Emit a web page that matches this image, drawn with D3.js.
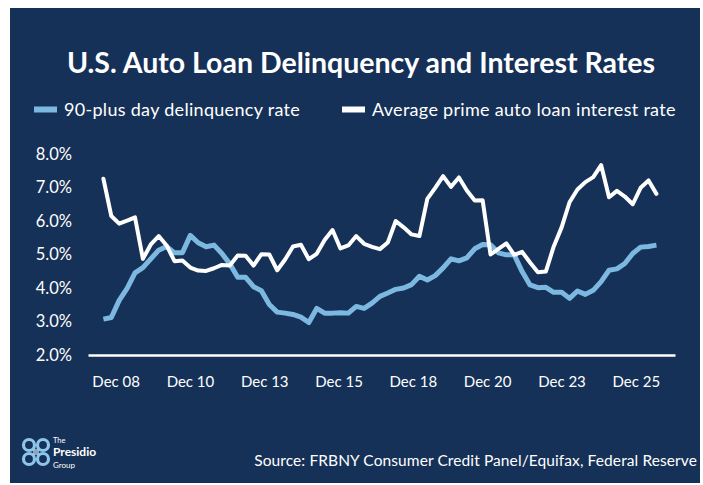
<!DOCTYPE html>
<html>
<head>
<meta charset="utf-8">
<script src="https://cdn.jsdelivr.net/npm/d3@7"></script>
<style>
  html, body { margin: 0; padding: 0; background: #ffffff; }
  svg { display: block; }
  text { font-family: Lato, "Open Sans", sans-serif; }
</style>
</head>
<body>
<svg id="chart" width="703" height="485"></svg>
<script>
// Quarterly readings, first quarter of 2008 through third quarter of 2025
const delinquencyRate = [
  3.07, 3.12, 3.63, 3.99, 4.45, 4.61, 4.87, 5.13, 5.24, 5.05,
  5.05, 5.57, 5.35, 5.23, 5.28, 5.03, 4.72, 4.32, 4.32, 4.04,
  3.92, 3.51, 3.28, 3.25, 3.21, 3.13, 2.97, 3.39, 3.25, 3.25,
  3.26, 3.25, 3.45, 3.39, 3.55, 3.75, 3.85, 3.96, 4.00, 4.10,
  4.35, 4.24, 4.37, 4.60, 4.87, 4.81, 4.90, 5.17, 5.30, 5.29,
  5.05, 4.99, 4.99, 4.49, 4.09, 4.01, 4.02, 3.87, 3.87, 3.69,
  3.91, 3.81, 3.93, 4.19, 4.53, 4.57, 4.73, 5.03, 5.22, 5.24,
  5.28
];
const primeAutoRate = [
  7.26, 6.15, 5.92, 6.01, 6.11, 4.87, 5.30, 5.55, 5.27, 4.80,
  4.82, 4.61, 4.52, 4.51, 4.59, 4.69, 4.67, 4.97, 4.96, 4.67,
  5.01, 5.00, 4.53, 4.85, 5.24, 5.29, 4.86, 5.02, 5.43, 5.73,
  5.18, 5.27, 5.55, 5.32, 5.23, 5.16, 5.36, 6.00, 5.81, 5.60,
  5.55, 6.66, 6.99, 7.34, 7.02, 7.30, 6.91, 6.61, 6.62, 5.00,
  5.17, 5.33, 4.99, 5.08, 4.76, 4.47, 4.49, 5.24, 5.81, 6.56,
  6.94, 7.16, 7.31, 7.67, 6.71, 6.90, 6.73, 6.50, 6.99, 7.21,
  6.81
];
const xTickLabels = ["Dec 08", "Dec 10", "Dec 13", "Dec 15", "Dec 18", "Dec 20", "Dec 23", "Dec 25"];
const yTicks = [2, 3, 4, 5, 6, 7, 8];
const seriesNames = ["90-plus day delinquency rate", "Average prime auto loan interest rate"];

const NAVY = "#163157";
const LIGHT_BLUE = "#7db8e0";
const WHITE = "#ffffff";

const svg = d3.select("#chart");

// background panel
svg.append("rect")
  .attr("x", 10).attr("y", 8)
  .attr("width", 690).attr("height", 475)
  .attr("fill", NAVY);

// title
svg.append("text")
  .attr("x", 361).attr("y", 73)
  .attr("text-anchor", "middle")
  .attr("fill", WHITE)
  .attr("font-size", 28.5)
  .attr("font-weight", 700)
  .text("U.S. Auto Loan Delinquency and Interest Rates");

// legend
const legendItems = [
  { name: seriesNames[0], color: LIGHT_BLUE, x: 34 },
  { name: seriesNames[1], color: WHITE, x: 342 }
];
const legend = svg.append("g").attr("class", "legend");
legendItems.forEach(d => {
  legend.append("rect")
    .attr("x", d.x).attr("y", 106.5)
    .attr("width", 23).attr("height", 6)
    .attr("fill", d.color);
  legend.append("text")
    .attr("x", d.x + 30).attr("y", 116)
    .attr("fill", WHITE)
    .attr("font-size", 18)
    .attr("letter-spacing", 0.3)
    .text(d.name);
});

// scales
const n = primeAutoRate.length;
const x = d3.scaleLinear()
  .domain([-1.95, n - 1 + 2.35])
  .range([88, 675]);
const y = d3.scaleLinear()
  .domain([2, 8])
  .range([355, 154]);

// y axis (labels only)
const yAxis = svg.append("g")
  .attr("transform", "translate(76,0)")
  .call(d3.axisLeft(y).tickValues(yTicks).tickSize(0).tickPadding(4)
    .tickFormat(d => d.toFixed(1) + "%"));
yAxis.select(".domain").remove();
yAxis.selectAll("text")
  .attr("fill", WHITE)
  .attr("font-size", 16.5)
  .style("font-family", "Lato, sans-serif");

// x axis: baseline plus labels
const xTickPos = d3.range(xTickLabels.length).map(k => 1.55 + k * 9.405);
const xAxis = svg.append("g")
  .attr("transform", `translate(0,${y(2)})`)
  .call(d3.axisBottom(x).tickValues(xTickPos).tickSize(0).tickSizeOuter(0).tickPadding(21)
    .tickFormat((d, i) => xTickLabels[i]));
xAxis.select(".domain")
  .attr("stroke", WHITE)
  .attr("stroke-width", 2.5);
xAxis.selectAll("text")
  .attr("fill", WHITE)
  .attr("font-size", 15)
  .style("font-family", "Lato, sans-serif");

// lines
const line = d3.line()
  .x((d, i) => x(i))
  .y(d => y(d));

svg.append("path")
  .datum(delinquencyRate)
  .attr("fill", "none")
  .attr("stroke", LIGHT_BLUE)
  .attr("stroke-width", 5)
  .attr("stroke-linejoin", "round")
  .attr("d", line);

svg.append("path")
  .datum(primeAutoRate)
  .attr("fill", "none")
  .attr("stroke", WHITE)
  .attr("stroke-width", 4)
  .attr("stroke-linejoin", "round")
  .attr("stroke-linecap", "round")
  .attr("d", line);

// source note
svg.append("text")
  .attr("x", 697).attr("y", 466)
  .attr("text-anchor", "end")
  .attr("fill", WHITE)
  .attr("font-size", 15.5)
  .attr("letter-spacing", 0.1)
  .text("Source: FRBNY Consumer Credit Panel/Equifax, Federal Reserve");

// brand mark
const logo = svg.append("g").attr("transform", "translate(36,452)");
[[-7, -7], [7, -7], [-7, 7], [7, 7]].forEach(([cx, cy]) => {
  logo.append("circle")
    .attr("cx", cx).attr("cy", cy).attr("r", 5.5)
    .attr("fill", "none")
    .attr("stroke", "#8ec5ea")
    .attr("stroke-width", 3.2);
});
logo.append("path")
  .attr("d", "M-3,-3 L3,3 M3,-3 L-3,3")
  .attr("stroke", "#8ec5ea").attr("stroke-width", 3.2);
logo.append("rect")
  .attr("x", -2).attr("y", -2).attr("width", 4).attr("height", 4)
  .attr("fill", "#9aa3ad");
const brand = svg.append("g").attr("fill", WHITE);
brand.append("text").attr("x", 53).attr("y", 442.5).attr("font-size", 7.5).text("The");
brand.append("text").attr("x", 53).attr("y", 456).attr("font-size", 12).attr("font-weight", 700).text("Presidio");
brand.append("text").attr("x", 53).attr("y", 468).attr("font-size", 8).text("Group");
</script>
</body>
</html>
